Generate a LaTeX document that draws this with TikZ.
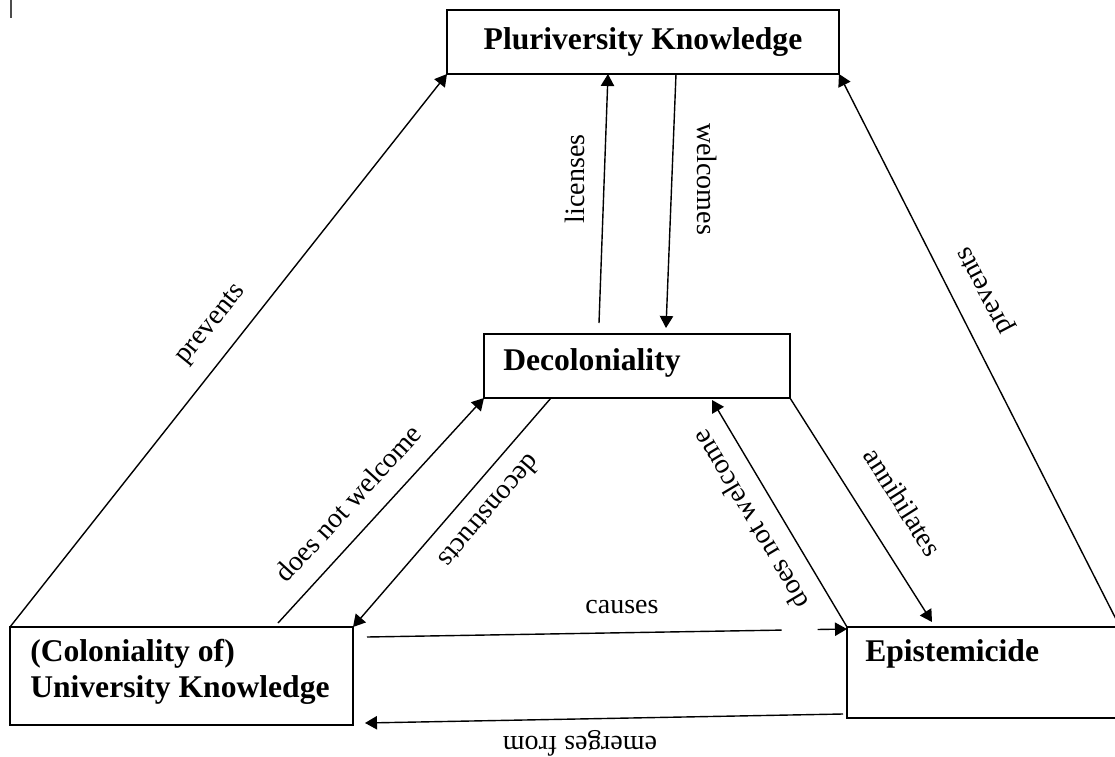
\documentclass[tikz,border=0pt]{standalone}
\usepackage{fontspec}
\setmainfont{Liberation Serif}
\usetikzlibrary{arrows.meta,calc}
\tikzset{
  box/.style={draw, line width=1.1pt, inner sep=0pt, outer sep=0pt, rectangle},
  conn/.style={line width=1.05pt, -{Triangle[length=9pt,width=10pt]}},
  lbl/.style={font=\fontsize{21}{25}\selectfont, inner sep=0pt},
  btxt/.style={font=\fontsize{23.7}{26.5}\selectfont\bfseries, inner sep=0pt, align=left},
}
\begin{document}
\begin{tikzpicture}[x=0.75pt,y=-0.75pt]
\useasboundingbox (0,0) rectangle (1115,757);
% cursor mark
\draw[line width=2pt, gray!60!black] (11,0) -- (11,18);
% boxes
\node[box, btxt, align=center, anchor=north west, minimum width=294pt, minimum height=48pt] (plu) at (447,10) {Pluriversity Knowledge};
\node[box, anchor=north west, minimum width=229.5pt, minimum height=48pt] (dec) at (484,334) {};
\node[box, anchor=north west, minimum width=257.25pt, minimum height=73.5pt] (uni) at (10,627) {};
\node[box, anchor=north west, minimum width=204.75pt, minimum height=68.25pt] (epi) at (847,627) {};
% box texts
\node[btxt, anchor=west] (dect) at (503,363) {Decoloniality};
\node[btxt, anchor=west] (unit) at (30,672) {(Coloniality of)\\University Knowledge};
\node[btxt, anchor=west] (epit) at (865,654) {Epistemicide};
% free end
\coordinate (licS) at (599,323);
% connectors
\draw[conn] (uni.north west) -- (plu.south west);
\draw[conn] (epi.north east) -- (plu.south east);
\draw[conn] (licS) -- ($(plu.south west)+(161,0)$);
\draw[conn] ($(plu.south west)+(229,0)$) -- ($(dec.north west)+(182,-6)$);
\draw[conn] ($(uni.north west)+(268,-4)$) -- (dec.south west);
\draw[conn] ($(dec.south west)+(67,0)$) -- (uni.north east);
\draw[conn] (epi.north west) -- ($(dec.south west)+(228,2)$);
\draw[conn] (dec.south east) -- ($(epi.north west)+(85,-5)$);
\draw[conn, dash pattern=on 311pt off 27pt on 400pt] ($(uni.north east)+(14,10)$) -- ($(epi.north west)+(0,2)$);
\draw[conn] ($(epi.south west)+(-4,-4)$) -- ($(uni.south east)+(12,-2)$);
% labels
\node[lbl, rotate=51] (lpl) at (212,325) {prevents};
\node[lbl, rotate=117.6] (lpr) at (986,290) {prevents};
\node[lbl, rotate=90] (llic) at (575,179) {licenses};
\node[lbl, rotate=-90] (lwel) at (707,179) {welcomes};
\node[lbl, rotate=47.5] (ldnwl) at (348,503) {does not welcome};
\node[lbl, rotate=-130.7] (ldec) at (490,512) {deconstructs};
\node[lbl, rotate=120.7] (ldnwr) at (750,520) {does not welcome};
\node[lbl, rotate=-57.6] (lann) at (903,502) {annihilates};
\node[lbl] (lcau) at (622,607) {causes};
\node[lbl, rotate=180] (lemf) at (580,743) {emerges from};
\end{tikzpicture}
\end{document}
